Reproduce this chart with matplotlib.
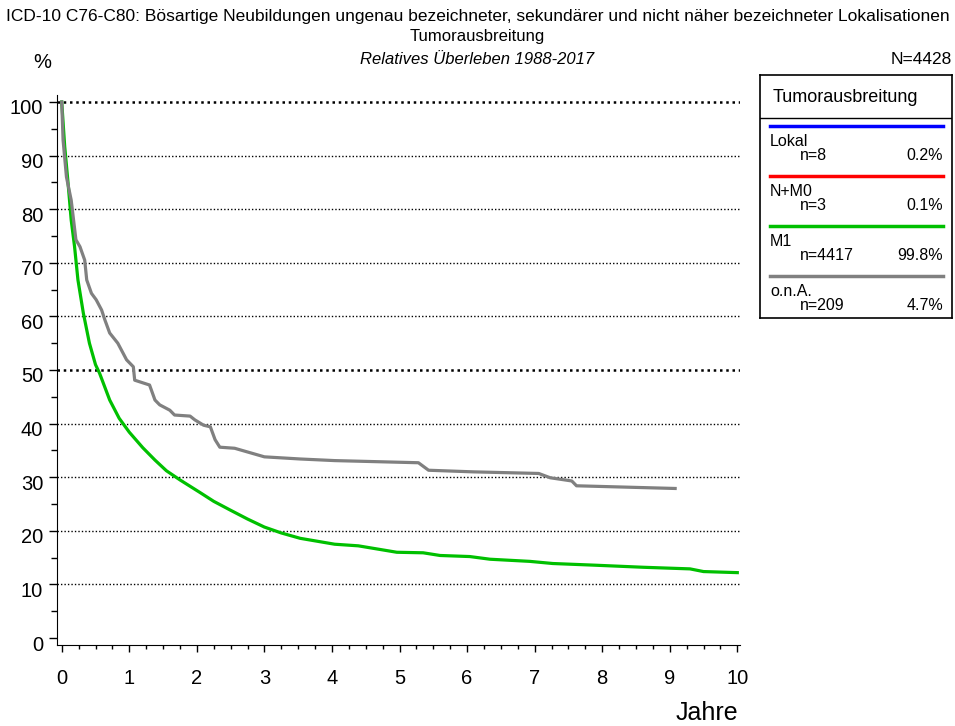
import matplotlib
matplotlib.use("Agg")
import matplotlib.pyplot as plt
import matplotlib.transforms as mtransforms
from matplotlib.ticker import MultipleLocator

plt.rcParams['font.family'] = ['Liberation Sans', 'DejaVu Sans']

# survival curves (years, percent)
m1_years = [0, 0.044, 0.09, 0.14, 0.19, 0.24, 0.32, 0.41, 0.5, 0.56, 0.71, 0.85, 1.0,
            1.2, 1.38, 1.55, 1.75, 2.04, 2.25, 2.49, 2.75, 3.0, 3.25, 3.53, 4.04, 4.39,
            4.96, 5.35, 5.6, 6.04, 6.34, 6.93, 7.27, 7.87, 8.61, 9.3, 9.5, 10.0]
m1_surv = [100, 91.7, 85.4, 78, 73, 66.8, 60.6, 55, 51.0, 49.4, 44.4, 41.0, 38.4,
           35.5, 33.2, 31.2, 29.5, 27.2, 25.5, 23.9, 22.2, 20.7, 19.6, 18.6, 17.5, 17.2,
           16.0, 15.9, 15.4, 15.2, 14.7, 14.3, 13.9, 13.6, 13.2, 12.9, 12.4, 12.2]

ona_years = [0, 0.02, 0.07, 0.14, 0.21, 0.27, 0.34, 0.37, 0.44, 0.51, 0.59, 0.64, 0.71,
             0.83, 0.96, 1.06, 1.08, 1.3, 1.38, 1.45, 1.6, 1.67, 1.9, 1.97, 2.1, 2.2,
             2.27, 2.34, 2.56, 3.0, 3.53, 4.04, 5.28, 5.43, 6.09, 7.06, 7.23, 7.55,
             7.62, 9.08]
ona_surv = [100, 92.9, 86, 81.7, 74.3, 73, 70.5, 66.8, 64.3, 63.1, 61.2, 59.3, 56.9,
            55, 51.9, 50.6, 48.1, 47.2, 44.4, 43.5, 42.5, 41.6, 41.4, 40.7, 39.7, 39.4,
            37, 35.6, 35.4, 33.8, 33.4, 33.1, 32.7, 31.3, 31.0, 30.7, 29.9, 29.3,
            28.4, 27.9]

groups = ["Lokal", "N+M0", "M1", "o.n.A."]
group_n = ["n=8", "n=3", "n=4417", "n=209"]
group_pct = ["0.2%", "0.1%", "99.8%", "4.7%"]
group_colors = ["#0000ff", "#ff0000", "#00c000", "#808080"]

W, H = 955, 726
fig = plt.figure(figsize=(W / 100, H / 100), dpi=100)

ax = fig.add_axes([57 / W, (H - 645) / H, (740 - 57) / W, (645 - 95) / H])
ax.set_xlim(-0.07, 10.04)
ax.set_ylim(-1.3, 101.3)

for y in range(10, 101, 10):
    lw = 1.8 if y in (50, 100) else 1.0
    ax.axhline(y, color='black', linestyle=(0, (1, 1.5)), linewidth=lw, zorder=1)

ax.plot(m1_years, m1_surv, color=group_colors[2], linewidth=2.3, zorder=3)
ax.plot(ona_years, ona_surv, color=group_colors[3], linewidth=2.3, zorder=3)

ax.spines['top'].set_visible(False)
ax.spines['right'].set_visible(False)
ax.xaxis.set_major_locator(MultipleLocator(1))
ax.xaxis.set_minor_locator(MultipleLocator(0.25))
ax.yaxis.set_major_locator(MultipleLocator(10))
ax.yaxis.set_minor_locator(MultipleLocator(5))
ax.tick_params(axis='x', which='major', length=5, width=1, labelsize=14.5, pad=12)
ax.tick_params(axis='x', which='minor', length=3, width=1)
ax.tick_params(axis='y', which='major', length=6, width=1, labelsize=14.5, pad=4)
ax.tick_params(axis='y', which='minor', length=4, width=1)

# y labels sit a little below their ticks in the original
shift = mtransforms.ScaledTranslation(0, -5 / 100, fig.dpi_scale_trans)
for lab in ax.get_yticklabels():
    lab.set_transform(lab.get_transform() + shift)

fig.text(478 / W, 1 - 17 / H, "ICD-10 C76-C80: Bösartige Neubildungen ungenau bezeichneter, sekundärer und nicht näher bezeichneter Lokalisationen",
         ha='center', va='center', fontsize=12.5)
fig.text(477 / W, 1 - 37 / H, "Tumorausbreitung", ha='center', va='center', fontsize=12)
fig.text(477 / W, 1 - 60 / H, "Relatives Überleben 1988-2017", ha='center', va='center',
         fontsize=12, style='italic')
fig.text(42 / W, 1 - 63 / H, "%", ha='center', va='center', fontsize=14.5)
fig.text(952 / W, 1 - 60 / H, "N=4428", ha='right', va='center', fontsize=12.5)
fig.text(707 / W, 1 - 713 / H, "Jahre", ha='center', va='center', fontsize=18)

# legend box drawn in pixel-like coordinates
lg = fig.add_axes([760 / W, (H - 318) / H, (952 - 760) / W, (318 - 75) / H])
lg.set_xlim(760, 952)
lg.set_ylim(318, 75)
lg.set_xticks([])
lg.set_yticks([])
for s in lg.spines.values():
    s.set_linewidth(1.2)
lg.axhline(118, color='black', linewidth=1)
lg.text(773, 97, "Tumorausbreitung", ha='left', va='center', fontsize=13)
for i, (g, n, p, c) in enumerate(zip(groups, group_n, group_pct, group_colors)):
    y0 = 126 + 50 * i
    lg.plot([770, 943], [y0, y0], color=c, linewidth=2.5)
    lg.text(770, y0 + 15, g, ha='left', va='center', fontsize=11.5)
    lg.text(800, y0 + 30, n, ha='left', va='center', fontsize=11.5)
    lg.text(943, y0 + 30, p, ha='right', va='center', fontsize=11.5)

fig.savefig("out.png", dpi=100)
